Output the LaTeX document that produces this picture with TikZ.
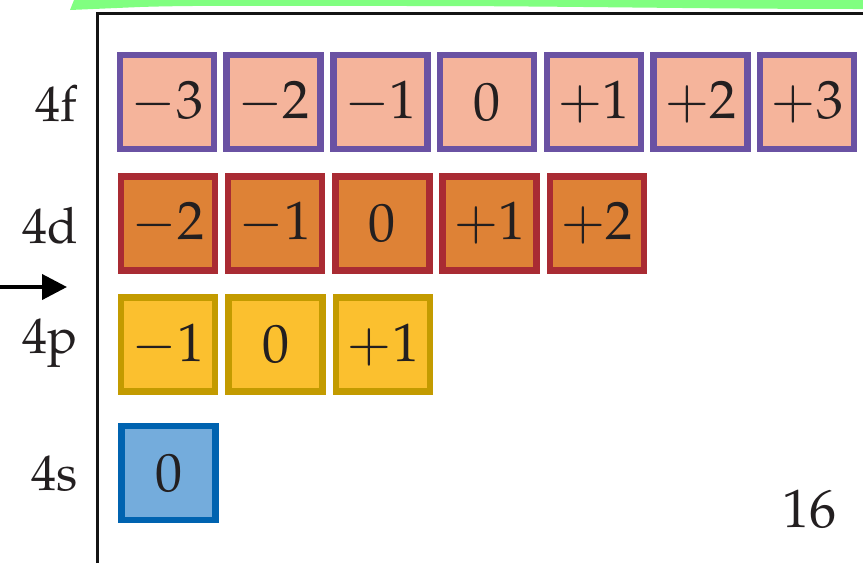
\documentclass[tikz,border=0pt]{standalone}
\usepackage[T1]{fontenc}
\usepackage{mathpazo}
\usetikzlibrary{arrows.meta}
\definecolor{inkblack}{HTML}{231F20}
\definecolor{hilite}{HTML}{80FF80}
\definecolor{ffill}{HTML}{F5B49B}
\definecolor{fline}{HTML}{6A52A3}
\definecolor{dfill}{HTML}{DE8236}
\definecolor{dline}{HTML}{A92B33}
\definecolor{pfill}{HTML}{FBC02F}
\definecolor{pline}{HTML}{C39B00}
\definecolor{sfill}{HTML}{74ACDC}
\definecolor{sline}{HTML}{0063B0}
\newcommand{\numsize}{\fontsize{27}{30}\selectfont}
\newcommand{\labsize}{\fontsize{25}{28}\selectfont}
\begin{document}
\begin{tikzpicture}[x=0.5pt, y=-0.5pt, text=inkblack,
    orb/.style={rectangle,minimum size=47pt,inner sep=0pt,line width=3.25pt,font=\numsize},
    f box/.style={orb,draw=fline,fill=ffill},
    d box/.style={orb,draw=dline,fill=dfill},
    p box/.style={orb,draw=pline,fill=pfill},
    s box/.style={orb,draw=sline,fill=sfill},
    shell label/.style={anchor=base east,inner sep=0pt,font=\labsize} ]
    \useasboundingbox (0,0) rectangle (863,563);
    % highlighter stroke and frame
    \fill [hilite] (74,0) -- (863,0) -- (863,9) .. controls (700,9) and (560,6) .. (420,6)
        .. controls (300,6) and (200,5) .. (140,7) -- (70,10) -- cycle;
    \draw [line width=1.5pt,black!92] (97,563) -- (97,13) -- (863,13);
    % 4f
    \node at (78,121) [shell label] (lf) {4f};
    \node at (167,102) [f box] (f1) {$-3$};
    \node at (273.7,102) [f box] (f2) {$-2$};
    \node at (380.4,102) [f box] (f3) {$-1$};
    \node at (487.1,102) [f box] (f4) {$0$};
    \node at (593.8,102) [f box] (f5) {$+1$};
    \node at (700.5,102) [f box] (f6) {$+2$};
    \node at (807.2,102) [f box] (f7) {$+3$};
    % 4d
    \node at (78,243) [shell label] (ld) {4d};
    \node at (168,223.3) [d box] (d1) {$-2$};
    \node at (275.2,223.3) [d box] (d2) {$-1$};
    \node at (382.4,223.3) [d box] (d3) {$0$};
    \node at (489.6,223.3) [d box] (d4) {$+1$};
    \node at (596.8,223.3) [d box] (d5) {$+2$};
    % 4p
    \node at (78,353) [shell label] (lp) {4p};
    \node at (168,344.7) [p box] (p1) {$-1$};
    \node at (275.5,344.7) [p box] (p2) {$0$};
    \node at (383,344.7) [p box] (p3) {$+1$};
    % 4s
    \node at (78,490) [shell label] (ls) {4s};
    \node at (168.5,473) [s box] (s1) {$0$};
    \node at (837,527) [anchor=base east,inner sep=0pt,font=\numsize] (pg) {16};
    % arrow
    \coordinate (a0) at (0,287);
    \coordinate (a1) at (67,287);
    \draw [-{Triangle[length=12.5pt,width=12.5pt]},line width=2pt,black] (a0) -- (a1);
\end{tikzpicture}
\end{document}
